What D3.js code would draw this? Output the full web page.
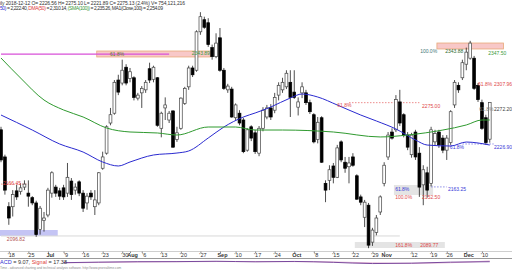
<!DOCTYPE html>
<html>
<head>
<meta charset="utf-8">
<script src="https://cdn.jsdelivr.net/npm/d3@7/dist/d3.min.js"></script>
<style>
  body { margin: 0; background: #fff; }
  svg { display: block; font-family: "Liberation Sans", Arial, sans-serif; }
</style>
</head>
<body>
<div class="chart"></div>
<script>
// daily bars, 14 Jun - 12 Dec 2018
var dates = [
  "2018-06-14","2018-06-15","2018-06-18","2018-06-19","2018-06-20","2018-06-21","2018-06-22","2018-06-25","2018-06-26","2018-06-27","2018-06-28","2018-06-29",
  "2018-07-02","2018-07-03","2018-07-05","2018-07-06","2018-07-09","2018-07-10","2018-07-11","2018-07-12","2018-07-13","2018-07-16","2018-07-17","2018-07-18","2018-07-19","2018-07-20","2018-07-23","2018-07-24","2018-07-25","2018-07-26","2018-07-27","2018-07-30","2018-07-31",
  "2018-08-01","2018-08-02","2018-08-03","2018-08-06","2018-08-07","2018-08-08","2018-08-09","2018-08-10","2018-08-13","2018-08-14","2018-08-15","2018-08-16","2018-08-17","2018-08-20","2018-08-21","2018-08-22","2018-08-23","2018-08-24","2018-08-27","2018-08-28","2018-08-29","2018-08-30","2018-08-31",
  "2018-09-04","2018-09-05","2018-09-06","2018-09-07","2018-09-10","2018-09-11","2018-09-12","2018-09-13","2018-09-14","2018-09-17","2018-09-18","2018-09-19","2018-09-20","2018-09-21","2018-09-24","2018-09-25","2018-09-26","2018-09-27","2018-09-28",
  "2018-10-01","2018-10-02","2018-10-03","2018-10-04","2018-10-05","2018-10-08","2018-10-09","2018-10-10","2018-10-11","2018-10-12","2018-10-15","2018-10-16","2018-10-17","2018-10-18","2018-10-19","2018-10-22","2018-10-23","2018-10-24","2018-10-25","2018-10-26","2018-10-29","2018-10-30","2018-10-31",
  "2018-11-01","2018-11-02","2018-11-05","2018-11-06","2018-11-07","2018-11-08","2018-11-09","2018-11-12","2018-11-13","2018-11-14","2018-11-15","2018-11-16","2018-11-19","2018-11-20","2018-11-21","2018-11-23","2018-11-26","2018-11-27","2018-11-28","2018-11-29","2018-11-30",
  "2018-12-03","2018-12-04","2018-12-06","2018-12-07","2018-12-10","2018-12-11","2018-12-12"
];

var open = [2239,2203,2137,2137,2158,2157,2163,2155,2149,2142,2107,2119,
  2126,2155,2163,2158,2162,2155,2171,2159,2170,2155,2142,2155,2137,2142,2188,2208,2248,2261,2305,2301,2322,
  2307,2308,2281,2288,2292,2320,2306,2308,2241,2268,2252,2264,2226,2241,2274,2296,2321,2318,2369,2385,2381,2348,2336,
  2361,2318,2292,2293,2255,2261,2252,2212,2243,2235,2208,2241,2256,2268,2265,2285,2292,2296,2302,
  2289,2269,2288,2288,2275,2259,2226,2255,2168,2172,2191,2176,2223,2196,2190,2203,2178,2150,2123,2139,2090,2103,2130,
  2168,2203,2236,2239,2276,2259,2232,2206,2236,2208,2166,2182,2168,2223,2236,2228,2212,2222,2272,2298,2308,
  2326,2334,2334,2298,2275,2255,2226.56];
var high = [2243,2206,2143,2159,2166,2168,2172,2172,2151,2145,2138,2130,
  2162,2184,2166,2162,2166,2195,2175,2168,2172,2159,2155,2159,2159,2183,2210,2245,2268,2305,2312,2332,2326,
  2321,2310,2288,2297,2305,2328,2324,2309,2263,2282,2264,2265,2243,2282,2296,2324,2324,2371,2395,2389,2387,2352,2367,
  2374,2321,2300,2296,2274,2265,2255,2241,2245,2239,2244,2269,2272,2273,2288,2302,2308,2318,2318,
  2318,2282,2302,2292,2279,2261,2256,2257,2172,2192,2195,2219,2225,2203,2203,2208,2180,2153,2146,2142,2109,2126,2152,
  2196,2236,2241,2285,2292,2261,2236,2235,2239,2216,2192,2190,2243,2239,2239,2232,2232,2265,2305,2302,2332,
  2348,2357,2337,2301,2279,2259,2275.10];
var low = [2196,2153,2113,2124,2146,2153,2159,2137,2139,2097,2100,2104,
  2123,2149,2150,2146,2146,2150,2146,2153,2151,2130,2133,2146,2126,2139,2186,2206,2245,2259,2285,2298,2298,
  2302,2278,2278,2268,2288,2301,2302,2243,2229,2252,2248,2215,2223,2239,2272,2292,2309,2316,2365,2373,2349,2332,2334,
  2316,2292,2288,2255,2252,2245,2208,2210,2224,2207,2204,2237,2253,2252,2261,2278,2288,2293,2256,
  2280,2258,2281,2272,2260,2221,2221,2195,2143,2159,2168,2175,2196,2182,2168,2190,2146,2139,2110,2082,2085,2099,2126,
  2164,2199,2226,2236,2244,2229,2212,2202,2199,2150,2139,2149,2164,2218,2215,2208,2199,2219,2268,2288,2305,
  2318,2332,2292,2276,2239,2219,2221.89];
var close = [2199,2159,2122,2153,2150,2162,2167,2151,2142,2100,2135,2122,
  2159,2182,2155,2151,2150,2176,2153,2163,2155,2135,2151,2150,2146,2182,2203,2243,2259,2302,2289,2318,2301,
  2316,2282,2285,2294,2302,2305,2322,2245,2261,2272,2261,2216,2235,2281,2294,2321,2312,2369,2389,2375,2352,2336,2354,
  2318,2294,2297,2256,2272,2248,2210,2239,2228,2210,2241,2265,2268,2256,2282,2298,2302,2314,2282,
  2282,2276,2296,2275,2263,2223,2249,2196,2159,2186,2176,2215,2199,2188,2195,2192,2147,2143,2143,2086,2106,2122,2150,
  2192,2232,2228,2279,2248,2232,2216,2232,2203,2163,2186,2159,2239,2234,2219,2212,2228,2263,2302,2292,2328,
  2342,2354,2294,2279,2241,2222,2275.13];

// moving averages at a few bars
var blueIdx = [0, 8, 15, 21, 26, 30, 33, 39, 45, 48, 53, 57, 62, 65, 69, 74, 77, 81, 86, 92, 96, 101, 106, 109, 115, 119, 122, 125];
var blueMa = [2258.6, 2238.7, 2220.2, 2209.5, 2196.3, 2191.0, 2196.3, 2205.6, 2208.2, 2210.9, 2228.1, 2242.7, 2256.0, 2261.3,
  2269.2, 2281.2, 2286.5, 2282.5, 2271.9, 2258.6, 2250.7, 2240.1, 2225.5, 2218.8, 2217.5, 2222.8, 2221.5, 2218.8];
var greenIdx = [0, 5, 11, 16, 21, 27, 33, 40, 45, 53, 60, 65, 72, 85, 97, 104, 113, 119, 123, 125];
var greenMa = [2334.2, 2307.7, 2278.5, 2265.3, 2256.0, 2241.4, 2236.1, 2234.8, 2232.1, 2242.7, 2242.7, 2238.7, 2238.7, 2236.1,
  2229.5, 2232.1, 2238.7, 2245.4, 2252.0, 2252.0];

// macd strip (only its top edge shows)
var macdIdx = [16, 25, 35, 45, 55, 65, 75, 85, 95, 105, 115, 125];
var macdVal = [-2, 4, 9, 10, 14, 8, 12, 2, -12, -8, 4, 9.07];
var signalVal = [-4, 1, 6, 9, 11, 10, 10, 6, -4, -9, -2, 17.38];

var tickDates = ["2018-06-18","2018-06-25","2018-07-02","2018-07-09","2018-07-16","2018-07-23","2018-07-30","2018-08-01","2018-08-06",
  "2018-08-13","2018-08-20","2018-08-27","2018-09-04","2018-09-10","2018-09-17","2018-09-24","2018-10-01","2018-10-08","2018-10-15",
  "2018-10-22","2018-10-29","2018-11-01","2018-11-12","2018-11-19","2018-11-26","2018-12-03","2018-12-10"];
var tickLabels = ["'18","'25","Jul","'9","'16","'23","'30","Aug","'6","'13","'20","'27","Sep","'10","'17","'24","Oct","'8","'15",
  "'22","'29","Nov","'12","'19","'26","Dec","'10"];

// drawn objects: [first bar, last bar, top price, bottom price]
var pinkZones = [[25, 53, 2343.5, 2335.6], [112, 128, 2354.1, 2346.2]];
var blueZones = [[0, 14, 2106.1, 2098.2]];
var greyZones = [[101, 110, 2165.8, 2152.5], [91, 113, 2090.2, 2082.2]];
// [price, first bar, last bar]
var magentaLevels = [[2339.5, 0, 43]];
var redLevels = [[2167.0, 0, 7], [2275.0, 89, 107]];
var blueLevels = [[2163.25, 110, 114], [2220.2, 118, 126]];
var greyLevels = [[2098.2, 0, 102]];

var fibText = ["61.8%","2343.89","2166.45","2096.82","61.8%","2275.00","100.0%","2343.88","2347.50","61.8%","2307.96",
  "61.8%","2272.20","61.8%","2226.90","61.8%","2163.25","100.0%","2152.50","161.8%","2089.77"];
var fibBar = [27.9, 48.8, 0.5, 1.5, 86, 107.7, 107.2, 113.6, 124.6, 122, 126.1, 122.3, 126.1, 114.8, 126.1, 100.8, 114.3, 100.8, 107.7, 100.8, 107.2];
var fibPrice = [2339.5, 2340.9, 2168.4, 2094.2, 2271.9, 2270.6, 2343.5, 2343.5, 2340.9, 2299.8, 2299.8, 2266.6, 2266.6,
  2216.2, 2216.2, 2160.5, 2160.5, 2149.9, 2149.9, 2086.2, 2086.2];
var fibTone = ["olive","green","red","dred","red","red","teal","dgreen","green","red","red","grey","dark","blue","blue",
  "blue","blue","red","red","red","red"];

var toneColor = {olive: "#5f7d2c", green: "#3a9a3a", red: "#e04848", dred: "#b05050", teal: "#3f7676",
  dgreen: "#2f6a2f", grey: "#808080", dark: "#404040", blue: "#3838d8"};

var width = 512, height = 270;

var svg = d3.select(".chart").append("svg")
    .attr("width", width)
    .attr("height", height);

var x = d3.scaleLinear().domain([0, dates.length - 1]).range([1, 489.75]);
var y = d3.scaleLinear().domain([2096.82, 2347.5]).range([237, 48]);

svg.append("clipPath").attr("id", "plotclip")
  .append("rect").attr("x", 0).attr("y", 11).attr("width", width).attr("height", 239);

var plot = svg.append("g").attr("clip-path", "url(#plotclip)");

// zones
function zones(list, fill, stroke) {
  plot.selectAll(null).data(list).enter().append("rect")
    .attr("x", function(d) { return x(d[0]) - 2; })
    .attr("width", function(d) { return x(d[1]) - x(d[0]) + 4; })
    .attr("y", function(d) { return y(d[2]); })
    .attr("height", function(d) { return y(d[3]) - y(d[2]); })
    .attr("fill", fill)
    .attr("stroke", stroke)
    .attr("stroke-width", 0.8);
}
zones(pinkZones, "#f8c8c8", "#e8a878");
zones(blueZones, "#c4c4f4", "none");
zones(greyZones, "#e4e4e4", "none");

function levels(list, color, dash, w) {
  plot.selectAll(null).data(list).enter().append("line")
    .attr("x1", function(d) { return x(d[1]); })
    .attr("x2", function(d) { return x(d[2]); })
    .attr("y1", function(d) { return y(d[0]); })
    .attr("y2", function(d) { return y(d[0]); })
    .attr("stroke", color)
    .attr("stroke-width", w)
    .attr("stroke-dasharray", dash);
}
levels(greyLevels, "#d8d8d8", null, 1);
levels(magentaLevels, "#d850d8", null, 1.2);
levels(redLevels, "#e87070", "1.5,1.5", 0.8);
levels(blueLevels, "#7070e0", "1.5,1.5", 0.8);

// candles
var bars = d3.range(dates.length);

plot.append("g").selectAll("line")
  .data(bars).enter().append("line")
  .attr("x1", function(i) { return x(i); })
  .attr("x2", function(i) { return x(i); })
  .attr("y1", function(i) { return y(high[i]); })
  .attr("y2", function(i) { return y(low[i]); })
  .attr("stroke", "#222")
  .attr("stroke-width", 0.8);

plot.append("g").selectAll("rect")
  .data(bars).enter().append("rect")
  .attr("x", function(i) { return x(i) - 1.4; })
  .attr("width", 2.8)
  .attr("y", function(i) { return y(Math.max(open[i], close[i])); })
  .attr("height", function(i) { return Math.max(0.8, Math.abs(y(open[i]) - y(close[i]))); })
  .attr("fill", function(i) { return close[i] >= open[i] ? "#fff" : "#000"; })
  .attr("stroke", function(i) { return close[i] >= open[i] ? "#444" : "#000"; })
  .attr("stroke-width", 0.7);

// moving averages
var maLine = d3.line().curve(d3.curveMonotoneX);

plot.append("path")
  .attr("d", maLine(blueIdx.map(function(d, k) { return [x(d), y(blueMa[k])]; })))
  .attr("fill", "none")
  .attr("stroke", "#2a2ad0")
  .attr("stroke-width", 1);

plot.append("path")
  .attr("d", maLine(greenIdx.map(function(d, k) { return [x(d), y(greenMa[k])]; })))
  .attr("fill", "none")
  .attr("stroke", "#2f9a2f")
  .attr("stroke-width", 1);

// level labels
plot.selectAll(null).data(fibText).enter().append("text")
  .attr("x", function(d, k) { return x(fibBar[k]); })
  .attr("y", function(d, k) { return y(fibPrice[k]); })
  .attr("dy", "0.35em")
  .attr("font-size", 5)
  .attr("fill", function(d, k) { return toneColor[fibTone[k]]; })
  .text(function(d) { return d; });

// header
svg.append("text")
  .attr("x", 0).attr("y", 5)
  .attr("font-size", 5)
  .attr("textLength", 185)
  .attr("fill", "#333")
  .text("ily 2018-12-12 O= 2226.56 H= 2275.10 L= 2221.89 C= 2275.13 (2.4%) V= 754,121,216");

var head2 = [["50)", "#3030d0"], [" = 2,222.40, ", "#333"], ["DMA(50)", "#e04040"], [" = 2,310.14, ", "#333"],
  ["(SMA(100))", "#3a9a3a"], [" = 2,235.26, ", "#333"], ["MA1(Close,100) = 2,254.09", "#333"]];
svg.append("text")
  .attr("x", 0).attr("y", 10)
  .attr("font-size", 5)
  .attr("textLength", 163)
  .selectAll("tspan").data(head2).enter().append("tspan")
  .attr("fill", function(d) { return d[1]; })
  .text(function(d) { return d[0]; });

// date axis
var tickIdx = tickDates.map(function(d) { return dates.indexOf(d); });

svg.append("line")
  .attr("x1", 0).attr("x2", width).attr("y1", 251.5).attr("y2", 251.5)
  .attr("stroke", "#cfcfcf").attr("stroke-width", 1);

var axis = svg.append("g")
  .attr("transform", "translate(0,251.5)")
  .call(d3.axisBottom(x).tickValues(tickIdx)
    .tickFormat(function(d, k) { return tickLabels[k]; })
    .tickSizeInner(1.5).tickSizeOuter(0).tickPadding(0.3));

axis.select(".domain").remove();
axis.selectAll(".tick line").attr("stroke", "#888");
axis.selectAll(".tick text")
  .attr("dx", 2)
  .attr("font-size", 5.5)
  .attr("font-family", "Liberation Sans, Arial, sans-serif")
  .attr("fill", "#333")
  .attr("font-weight", function(d, k) { return tickLabels[k].charAt(0) === "'" ? "normal" : "bold"; });

svg.append("line")
  .attr("x1", 0).attr("x2", width).attr("y1", 258.5).attr("y2", 258.5)
  .attr("stroke", "#9a9a9a").attr("stroke-width", 1);

// macd strip
var m = d3.scaleLinear().domain([-40, 40]).range([266, 259]);

svg.append("path")
  .attr("d", maLine(macdIdx.map(function(d, k) { return [x(d), m(signalVal[k])]; })))
  .attr("fill", "none").attr("stroke", "#e2b2d2").attr("stroke-width", 1);
svg.append("path")
  .attr("d", maLine(macdIdx.map(function(d, k) { return [x(d), m(macdVal[k])]; })))
  .attr("fill", "none").attr("stroke", "#7a4a9e").attr("stroke-width", 1);

var macdHead = [["ACD", "#3030d0"], [" = 9.07, ", "#333"], ["Signal", "#e04040"], [" = 17.38", "#333"]];
svg.append("text")
  .attr("x", 0).attr("y", 263.5)
  .attr("font-size", 5.5)
  .selectAll("tspan").data(macdHead).enter().append("tspan")
  .attr("fill", function(d) { return d[1]; })
  .text(function(d) { return d[0]; });

svg.append("text")
  .attr("x", 0).attr("y", 269.3)
  .attr("font-size", 3.2)
  .attr("fill", "#8a8a8a")
  .text("Time - advanced charting and technical analysis software. http://www.prorealtime.com");
</script>
</body>
</html>
